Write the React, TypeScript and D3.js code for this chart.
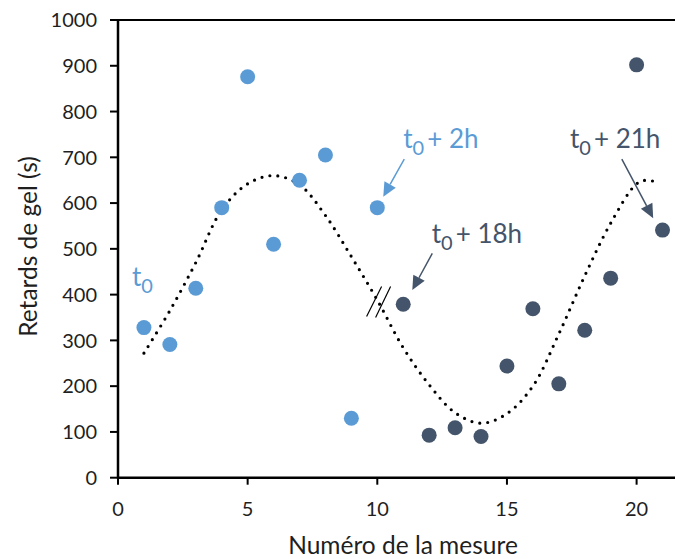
import React from "react";
import * as d3 from "d3";

const measureBlue = [1, 2, 3, 4, 5, 6, 7, 8, 9, 10];
const valuesBlue = [328, 291, 414, 590, 876, 510, 650, 705, 130, 590];
const measureDark = [11, 12, 13, 14, 15, 16, 17, 18, 19, 20, 21];
const valuesDark = [379, 93, 109, 90, 244, 369, 205, 322, 436, 902, 541];
const trendX = [1, 2, 3, 4, 5, 6, 7, 8, 9, 10, 11, 12, 13, 14, 15, 16, 17, 18, 19, 20, 20.4, 20.9];
const trendY = [272, 365, 470, 585, 642, 660, 640, 573, 483, 388, 284, 203, 142, 119, 140, 200, 314, 441, 556, 642, 650, 643];
const xTicks = [0, 5, 10, 15, 20];
const yTicks = [0, 100, 200, 300, 400, 500, 600, 700, 800, 900, 1000];

const BLUE = "#5B9BD5";
const DARK = "#44546A";
const FONT = "Lato, 'Open Sans', sans-serif";

type Ann = { label: string; color: string; tx: number; ty: number; x1?: number; y1?: number; x2?: number; y2?: number };
const annotations: Ann[] = [
  { label: "", color: BLUE, tx: 0.54, ty: 419 },
  { label: "+ 2h", color: BLUE, tx: 11.0, ty: 720, x1: 11.04, y1: 696, x2: 10.23, y2: 614 },
  { label: "+ 18h", color: DARK, tx: 12.1, ty: 512, x1: 12.12, y1: 490, x2: 11.35, y2: 410 },
  { label: "+ 21h", color: DARK, tx: 17.43, ty: 720, x1: 19.43, y1: 696, x2: 20.64, y2: 567 },
];
const breakPoint = [10.05, 385];

export default function App() {
  const left = 118;
  const top = 20;
  const bottom = 477.7;
  const x = d3.scaleLinear().domain([0, 22]).range([left, left + 22 * 25.93]);
  const y = d3.scaleLinear().domain([0, 1000]).range([bottom, top]);
  const line = d3
    .line<number>()
    .x((_, i) => x(trendX[i]))
    .y((d) => y(d))
    .curve(d3.curveCatmullRom.alpha(0.5));

  const arrowHead = (x1: number, y1: number, x2: number, y2: number, color: string) => {
    const ang = Math.atan2(y2 - y1, x2 - x1);
    const L = 14, W = 6.5;
    const bx = x2 - L * Math.cos(ang), by = y2 - L * Math.sin(ang);
    const px = -Math.sin(ang) * W, py = Math.cos(ang) * W;
    return (
      <g>
        <line x1={x1} y1={y1} x2={bx} y2={by} stroke={color} strokeWidth={1.5} />
        <polygon points={`${x2},${y2} ${bx + px},${by + py} ${bx - px},${by - py}`} fill={color} />
      </g>
    );
  };

  const bx = x(breakPoint[0]), by = y(breakPoint[1]);

  return (
    <svg width={675} height={559} style={{ position: "absolute", left: 0, top: 0, background: "#fff" }} fontFamily={FONT}>
      {/* frame */}
      <line x1={left} x2={700} y1={top} y2={top} stroke="#000" strokeWidth={2} />
      <line x1={left} x2={700} y1={bottom} y2={bottom} stroke="#000" strokeWidth={2.5} />
      <line x1={left} x2={left} y1={top - 1} y2={bottom + 1} stroke="#000" strokeWidth={2.5} />
      {yTicks.map((t) => (
        <g key={"y" + t}>
          <line x1={left - 8} x2={left} y1={y(t)} y2={y(t)} stroke="#000" strokeWidth={2} />
          <text x={97} y={y(t)} dy="0.36em" textAnchor="end" fontSize={20} fill="#1f1f1f">{t}</text>
        </g>
      ))}
      {xTicks.map((t) => (
        <g key={"x" + t}>
          <line x1={x(t)} x2={x(t)} y1={bottom} y2={bottom + 7} stroke="#000" strokeWidth={2} />
          <text x={x(t)} y={516} textAnchor="middle" fontSize={20} fill="#1f1f1f">{t}</text>
        </g>
      ))}
      <text x={403} y={554} textAnchor="middle" fontSize={24.5} fill="#1f1f1f">Numéro de la mesure</text>
      <text transform={`translate(37,246.5) rotate(-90)`} textAnchor="middle" fontSize={24.5} fill="#1f1f1f">Retards de gel (s)</text>

      {/* trend line */}
      <path d={line(trendY) || ""} fill="none" stroke="#000" strokeWidth={3.2} strokeDasharray="0 8" strokeLinecap="round" />
      {/* break marks */}
      <line x1={bx - 12} y1={by + 15} x2={bx + 3} y2={by - 15} stroke="#000" strokeWidth={1.2} />
      <line x1={bx - 3} y1={by + 16} x2={bx + 12} y2={by - 15} stroke="#000" strokeWidth={1.2} />

      {/* points */}
      {valuesBlue.map((v, i) => (
        <circle key={"b" + i} cx={x(measureBlue[i])} cy={y(v)} r={7.5} fill={BLUE} />
      ))}
      {valuesDark.map((v, i) => (
        <circle key={"d" + i} cx={x(measureDark[i])} cy={y(v)} r={7.5} fill={DARK} />
      ))}

      {/* annotations */}
      {annotations.map((a, i) => (
        <g key={"a" + i}>
          <text x={x(a.tx)} y={y(a.ty)} fontSize={26} fill={a.color}>
            t<tspan fontSize={20} dy={7}>0</tspan>
            <tspan dy={-7} dx={3}>{a.label}</tspan>
          </text>
          {a.x1 !== undefined && arrowHead(x(a.x1), y(a.y1!), x(a.x2!), y(a.y2!), a.color)}
        </g>
      ))}
    </svg>
  );
}
